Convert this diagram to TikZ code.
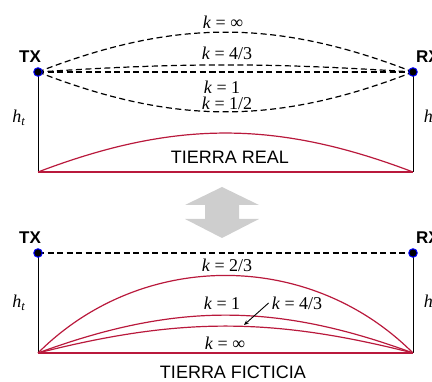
\documentclass[tikz,border=0pt]{standalone}
\usepackage{fontspec}
\setmainfont{Liberation Serif}
\setsansfont{Liberation Sans}
\usetikzlibrary{arrows.meta}

\definecolor{earthred}{RGB}{185,25,60}
\definecolor{arrowgray}{RGB}{206,206,206}

\begin{document}
\begin{tikzpicture}[x=1pt,y=1pt]
    % Define styles
    \tikzstyle{antenna} = [circle, draw=blue, fill=black, line width=1pt, inner sep=0pt, minimum size=8.5pt]
    \tikzstyle{mast} = [black, line width=1pt]
    \tikzstyle{ray} = [black, line width=1.2pt, dash pattern=on 6pt off 3.5pt]
    \tikzstyle{earth} = [earthred, line width=1.2pt]
    \tikzstyle{klabel} = [inner sep=1pt, font=\fontsize{18}{18}\selectfont]
    \tikzstyle{station} = [inner sep=0pt, font=\sffamily\bfseries\fontsize{17}{17}\selectfont]
    \tikzstyle{ground} = [inner sep=0pt, font=\sffamily\fontsize{18}{18}\selectfont]

    \useasboundingbox (0,0) rectangle (432,382);

    % Upper panel: real earth
    \coordinate (tx1) at (38,310);
    \coordinate (rx1) at (413,310);
    \coordinate (tg1) at (38,210);
    \coordinate (rg1) at (413,210);

    \draw[mast] (tx1) -- (tg1);
    \draw[mast] (rx1) -- (rg1);
    \foreach \bend in {21.3,3.7,0,-21.3} {
        \draw[ray] (tx1) to[bend left=\bend] (rx1);
      }
    \draw[earth] (tg1) -- (rg1);
    \draw[earth] (tg1) to[bend left=20.8] (rg1);

    \node(txdot1)[antenna] at (tx1) {};
    \node(rxdot1)[antenna] at (rx1) {};
    \node(txname1)[station] at (30,325) {TX};
    \node(rxname1)[station] at (428,325) {RX};
    \node(ht1)[klabel] at (19,264) {\textit{h}\textsubscript{\textit{t}}};
    \node(hr1)[klabel] at (431,264) {\textit{h}\textsubscript{\textit{r}}};

    \node(kinfa)[klabel] at (223,360) {\textit{k} = ∞};
    \node(kfoura)[klabel] at (227,329) {\textit{k} = 4/3};
    \node(konea)[klabel] at (222,295) {\textit{k} = 1};
    \node(khalfa)[klabel] at (227,279) {\textit{k} = 1/2};
    \node(real)[ground] at (230,225) {TIERRA REAL};

    % Double arrow between the panels
    \fill[arrowgray] (222,195) -- (259,177) -- (239,177) -- (239,163) -- (259,163)
      -- (222,144) -- (185,163) -- (205,163) -- (205,177) -- (185,177) -- cycle;

    % Lower panel: fictitious earth
    \coordinate (tx2) at (38,129);
    \coordinate (rx2) at (413,129);
    \coordinate (tg2) at (38,29);
    \coordinate (rg2) at (413,29);

    \draw[mast] (tx2) -- (tg2);
    \draw[mast] (rx2) -- (rg2);
    \draw[ray] (tx2) -- (rx2);
    \foreach \bend in {45,20.2,14.2,0} {
        \draw[earth] (tg2) to[bend left=\bend] (rg2);
      }

    \node(txdot2)[antenna] at (tx2) {};
    \node(rxdot2)[antenna] at (rx2) {};
    \node(txname2)[station] at (30,144) {TX};
    \node(rxname2)[station] at (428,144) {RX};
    \node(ht2)[klabel] at (19,79) {\textit{h}\textsubscript{\textit{t}}};
    \node(hr2)[klabel] at (431,79) {\textit{h}\textsubscript{\textit{r}}};

    \node(ktwob)[klabel] at (227,117) {\textit{k} = 2/3};
    \node(koneb)[klabel] at (222,79) {\textit{k} = 1};
    \node(kfourb)[klabel] at (297,79) {\textit{k} = 4/3};
    \node(kinfb)[klabel] at (225,39) {\textit{k} = ∞};
    \node(fict)[ground] at (233,10) {TIERRA FICTICIA};

    \coordinate (kfourtip) at (244,57);
    \draw[-{Stealth[length=5pt,width=4pt]}, line width=0.9pt] (kfourb.west) ++(-2,0) -- (kfourtip);
  \end{tikzpicture}
\end{document}
